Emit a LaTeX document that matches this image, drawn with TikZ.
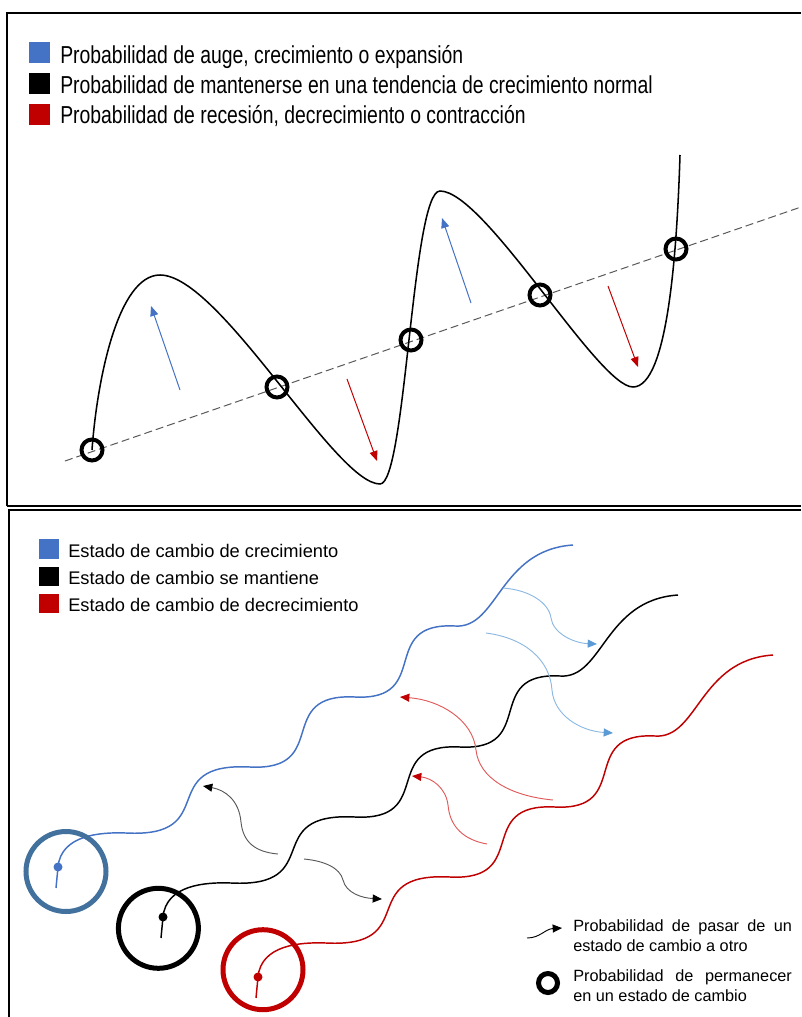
\documentclass[tikz,border=0pt]{standalone}
\usepackage{fontspec}
\setmainfont{Liberation Sans}
\newfontfamily\narrowsans[FakeStretch=0.79]{Liberation Sans}
\usetikzlibrary{arrows.meta}

\definecolor{cBlue}{HTML}{4472C4}
\definecolor{cRed}{HTML}{C00000}
\definecolor{cSteel}{HTML}{41719C}
\definecolor{cSky}{HTML}{5B9BD5}
\definecolor{cSkyLine}{HTML}{8DB8E2}
\definecolor{cRedLine}{HTML}{E05A5A}
\definecolor{cGray}{HTML}{595959}

\tikzset{
  frame/.style={line width=1.5pt, black},
  trend/.style={line width=1.15pt, black},
  baseline/.style={line width=0.75pt, cGray, dash pattern=on 6pt off 3pt},
  keep/.style={circle, draw=black, line width=3pt, minimum size=15.75pt, inner sep=0pt},
  bigring/.style={circle, draw=#1, line width=3.75pt, minimum size=60pt, inner sep=0pt},
  toparrow/.style={line width=0.75pt, draw=#1, -{Triangle[length=7.5pt,width=6pt,color=#1]}},
  hop/.style={line width=0.7pt, draw=#1},
  wave/.style={line width=1.1pt, draw=#1},
  legtop/.style={anchor=base west, inner sep=0pt, font=\narrowsans\fontsize{18.4}{20}\selectfont},
  legbot/.style={anchor=base west, inner sep=0pt, font=\fontsize{13.7}{16}\selectfont},
  legnote/.style={anchor=base west, inner sep=0pt, font=\fontsize{12.2}{14}\selectfont},
}

% stair-shaped trajectory, drawn from its starting dot
\newcommand\stairpath{%
  (56,888) -- (58,867)
  .. controls (61,835) and (100,832) .. (126,833)
  .. controls (222.7,838) and (153.3,762) .. (250,767)
  .. controls (331.9,771.2) and (273.1,692.8) .. (355,697)
  .. controls (433,701) and (377,622) .. (455,626)
  .. controls (498,629) and (499,550) .. (573,545)}

\begin{document}
\begin{tikzpicture}[x=0.75pt, y=-0.75pt]
\useasboundingbox (0,0) rectangle (801,1017);

% ---------- frames ----------
\draw[frame] (7,506) -- (7,13) -- (801,13);
\draw[line width=1.9pt] (7,506) -- (801,506);
\draw[frame] (9,1017) -- (9,509.5) -- (801,509.5);

% ---------- upper panel: legend ----------
\fill[cBlue] (29,42) rectangle (50,63);
\fill[black] (29,73) rectangle (50,94);
\fill[cRed]  (29,104) rectangle (50,125);
\node[legtop] (lt1) at (60,63.5) {Probabilidad de auge, crecimiento o expansión};
\node[legtop] (lt2) at (60,93.5) {Probabilidad de mantenerse en una tendencia de crecimiento normal};
\node[legtop] (lt3) at (60,123) {Probabilidad de recesión, decrecimiento o contracción};

% ---------- upper panel: trend line and cycle ----------
\coordinate (dl1) at (65,461);
\coordinate (dl2) at (801,207);
\draw[baseline] (dl1) -- (dl2);

\coordinate (p1) at (160,275);
\coordinate (t1) at (380,484);
\coordinate (p2) at (440,191);
\coordinate (t2) at (633,387);
\coordinate (cend) at (680,155);

\node[keep] (k1) at (92,450) {};
\node[keep] (k2) at (277,387) {};
\node[keep] (k3) at (411,340) {};
\node[keep] (k4) at (540,295) {};
\node[keep] (k5) at (676,249) {};

\draw[trend] (k1.center) .. controls (97,380) and (118,275) .. (p1)
  .. controls (220,275) and (335,484) .. (t1)
  .. controls (406,484) and (412,191) .. (p2)
  .. controls (485,191) and (598,387) .. (t2)
  .. controls (668,387) and (677,250) .. (cend);

\coordinate (ua1) at (180,390);  \coordinate (ub1) at (151,306);
\coordinate (da1) at (347,379);  \coordinate (db1) at (377,461);
\coordinate (ua2) at (471,303);  \coordinate (ub2) at (442,218);
\coordinate (da2) at (608,286);  \coordinate (db2) at (638,367);
\draw[toparrow=cBlue] (ua1) -- (ub1);
\draw[toparrow=cRed]  (da1) -- (db1);
\draw[toparrow=cBlue] (ua2) -- (ub2);
\draw[toparrow=cRed]  (da2) -- (db2);

% ---------- lower panel: legend ----------
\fill[cBlue] (39,539) rectangle (59,559);
\fill[black] (39,567) rectangle (59,586);
\fill[cRed]  (39,594) rectangle (59,613);
\node[legbot] (lb1) at (68,557) {Estado de cambio de crecimiento};
\node[legbot] (lb2) at (68,584) {Estado de cambio se mantiene};
\node[legbot] (lb3) at (68,611) {Estado de cambio de decrecimiento};

% ---------- lower panel: three trajectories ----------
\draw[wave=cBlue] \stairpath;
\fill[cBlue] (58,867) circle[radius=4.5];
\begin{scope}[shift={(105,50)}]
  \draw[wave=black] \stairpath;
  \fill[black] (58,867) circle[radius=4.5];
\end{scope}
\begin{scope}[shift={(200,110)}]
  \draw[wave=cRed] \stairpath;
  \fill[cRed] (58,867) circle[radius=4.5];
\end{scope}

\node[bigring=cSteel] (r1) at (66,871.5) {};
\node[bigring=black]  (r2) at (158.4,928.3) {};
\node[bigring=cRed]   (r3) at (263,969.7) {};

% ---------- lower panel: transitions ----------
\coordinate (m1s) at (278,854); \coordinate (m1e) at (203,786);
\coordinate (m2s) at (304,859); \coordinate (m2e) at (382,899);
\coordinate (g1s) at (503,588); \coordinate (g1e) at (597,644);
\coordinate (g2s) at (486,633); \coordinate (g2e) at (613,733);
\coordinate (d1s) at (553,800); \coordinate (d1e) at (400,697);
\coordinate (d2s) at (487,844); \coordinate (d2e) at (412,776);

\draw[hop=cGray, -{Triangle[length=7pt,width=6pt,color=black]}]
  (m1s) .. controls (255,852) and (243,842) .. (241,822)
        .. controls (239,800) and (225,790) .. (m1e);
\draw[hop=cGray, -{Triangle[length=7pt,width=6pt,color=black]}]
  (m2s) .. controls (325,861) and (340,868) .. (343,880)
        .. controls (346,893) and (362,898) .. (m2e);
\draw[hop=cSkyLine, -{Triangle[length=7pt,width=6pt,color=cSky]}]
  (g1s) .. controls (530,590) and (549,603) .. (551,618)
        .. controls (553,633) and (573,643) .. (g1e);
\draw[hop=cSkyLine, -{Triangle[length=7pt,width=6pt,color=cSky]}]
  (g2s) .. controls (525,638) and (550,660) .. (552,690)
        .. controls (554,715) and (580,731) .. (g2e);
\draw[hop=cRedLine, -{Triangle[length=7pt,width=6pt,color=cRed]}]
  (d1s) .. controls (510,796) and (479,778) .. (476,750)
        .. controls (473,720) and (440,700) .. (d1e);
\draw[hop=cRedLine, -{Triangle[length=7pt,width=6pt,color=cRed]}]
  (d2s) .. controls (465,840) and (450,828) .. (448,805)
        .. controls (446,788) and (432,778) .. (d2e);

% ---------- lower panel: key ----------
\coordinate (ka) at (527,938);
\coordinate (kb) at (562,928);
\draw[hop=black, -{Triangle[length=7pt,width=6pt,color=black]}]
  (ka) .. controls (540,938) and (545,929) .. (kb);
\node[circle, draw=black, line width=3.75pt, minimum size=14.25pt, inner sep=0pt] (kc) at (548,983) {};

\node[legnote] (n1) at (573,931) {\makebox[164pt][s]{Probabilidad de pasar de un}};
\node[legnote] (n2) at (573,951) {estado de cambio a otro};
\node[legnote] (n3) at (573,981) {\makebox[164pt][s]{Probabilidad de permanecer}};
\node[legnote] (n4) at (573,1001) {en un estado de cambio};
\end{tikzpicture}
\end{document}
